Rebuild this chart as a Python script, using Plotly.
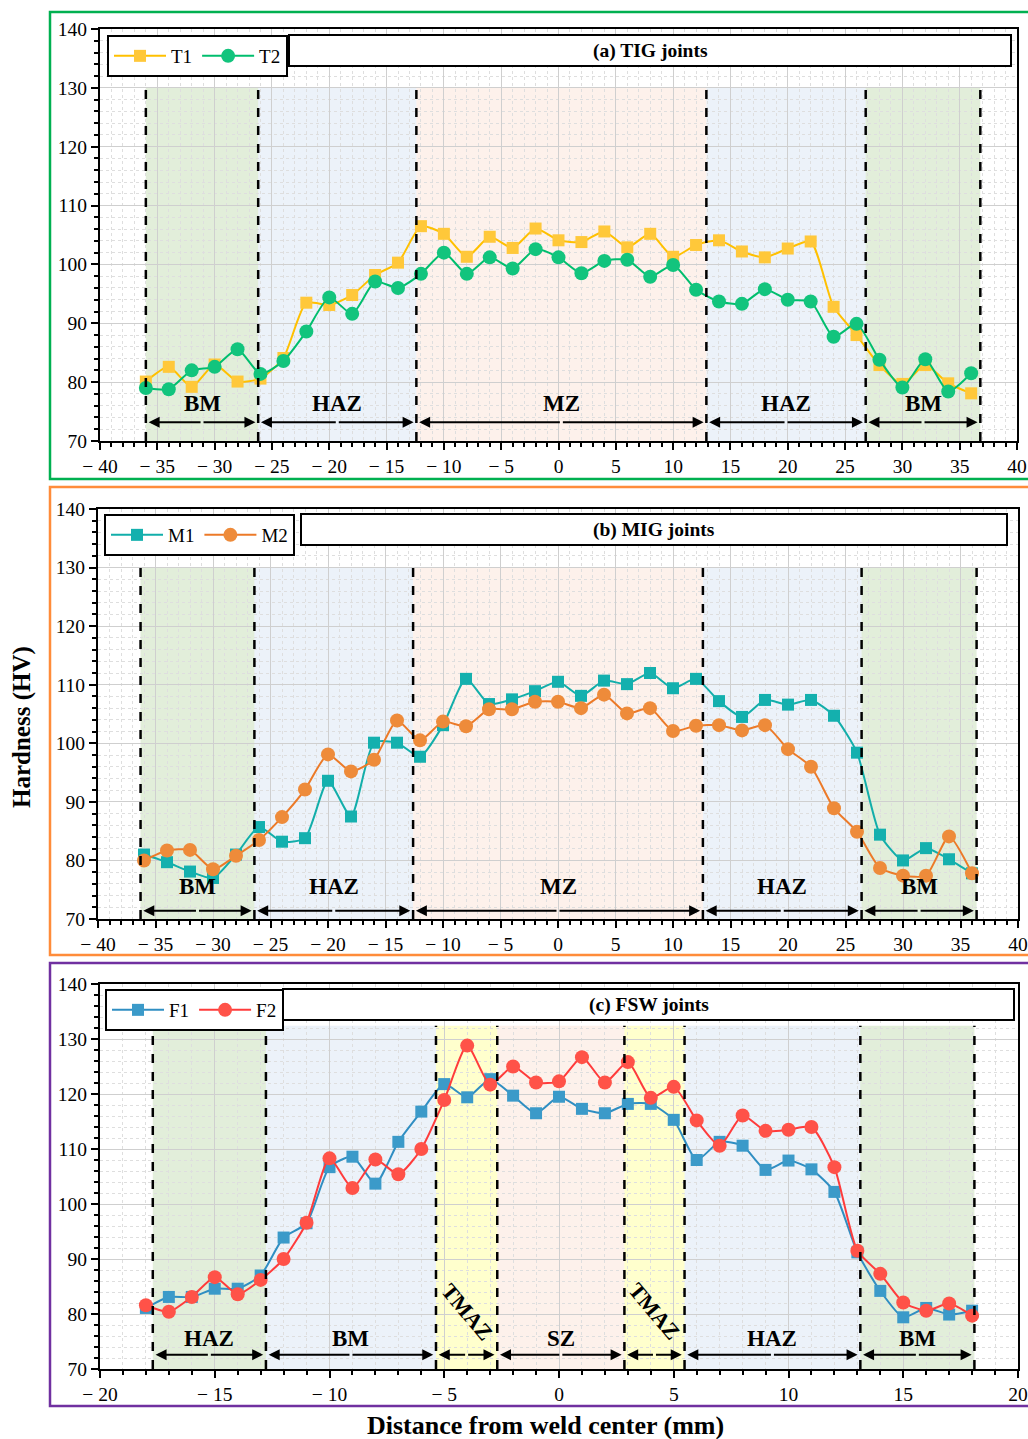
import plotly.graph_objects as go

# ---------------- data ----------------
x_arc = list(range(-36, 37, 2))          # TIG / MIG measuring positions (mm)
x_fsw = list(range(-18, 19, 1))          # FSW measuring positions (mm)

t1 = [80.1, 82.6, 79.2, 83.0, 80.1, 80.6, 84.1, 93.5, 93.1, 94.8, 98.2, 100.3, 106.5,
      105.2, 101.3, 104.7, 102.8, 106.1, 104.1, 103.8, 105.6, 102.9, 105.2, 101.3, 103.3,
      104.1, 102.2, 101.2, 102.7, 103.9, 92.8, 88.0, 82.9, 79.7, 82.9, 79.8, 78.1]
t2 = [79.0, 78.8, 82.0, 82.6, 85.6, 81.4, 83.6, 88.6, 94.4, 91.6, 97.1, 96.0, 98.4,
      102.0, 98.4, 101.2, 99.3, 102.6, 101.2, 98.5, 100.6, 100.8, 97.9, 99.9, 95.7,
      93.7, 93.3, 95.8, 94.0, 93.7, 87.7, 89.9, 83.8, 79.1, 83.9, 78.4, 81.5]
m1 = [81.0, 79.7, 78.1, 77.0, 81.0, 85.7, 83.2, 83.8, 93.6, 87.5, 100.1, 100.1, 97.7,
      103.1, 111.0, 106.7, 107.5, 108.9, 110.5, 108.1, 110.7, 110.1, 112.0, 109.4, 111.0,
      107.2, 104.5, 107.4, 106.6, 107.4, 104.7, 98.4, 84.4, 80.0, 82.1, 80.2, 77.8]
m2 = [80.0, 81.7, 81.8, 78.5, 80.8, 83.5, 87.4, 92.1, 98.1, 95.2, 97.2, 103.9, 100.5,
      103.7, 102.9, 105.8, 105.8, 107.1, 107.1, 106.0, 108.3, 105.1, 106.0, 102.1, 103.0,
      103.1, 102.2, 103.1, 99.0, 96.0, 88.9, 84.9, 78.7, 77.4, 77.4, 84.1, 77.8]
f1 = [81.1, 83.1, 83.1, 84.6, 84.6, 87.0, 93.9, 96.5, 106.7, 108.6, 103.7, 111.3, 116.8,
      121.8, 119.4, 122.7, 119.7, 116.5, 119.5, 117.3, 116.5, 118.2, 118.2, 115.3, 108.0,
      111.3, 110.6, 106.2, 107.9, 106.3, 102.2, 91.2, 84.2, 79.4, 81.1, 79.9, 80.6]
f2 = [81.6, 80.4, 83.1, 86.7, 83.6, 86.2, 90.0, 96.6, 108.3, 102.9, 108.1, 105.4, 110.0,
      118.9, 128.8, 121.7, 125.0, 122.1, 122.3, 126.7, 122.1, 125.8, 119.3, 121.3, 115.2,
      110.6, 116.1, 113.3, 113.5, 114.0, 106.7, 91.5, 87.3, 82.1, 80.6, 81.9, 79.7]

# zone boundaries (mm) and labels
bounds_tig = [-36.0, -26.2, -12.4, 12.9, 26.8, 36.8]
zones_tig = ["BM", "HAZ", "MZ", "HAZ", "BM"]
bounds_mig = [-36.3, -26.4, -12.6, 12.6, 26.4, 36.4]
zones_mig = ["BM", "HAZ", "MZ", "HAZ", "BM"]
bounds_fsw = [-17.7, -12.77, -5.36, -2.69, 2.85, 5.47, 13.13, 18.1]
zones_fsw = ["HAZ", "BM", "TMAZ", "SZ", "TMAZ", "HAZ", "BM"]
fill_tig = ["green", "blue", "pink", "blue", "green"]
fill_mig = ["green", "blue", "pink", "blue", "green"]
fill_fsw = ["green", "blue", "yellow", "pink", "yellow", "blue", "green"]

# ---------------- styling ----------------
W, H = 1028, 1439
FONT = "Liberation Serif"
ZONE_COLORS = {
    "green": "rgba(120,175,80,0.21)",
    "blue": "rgba(120,160,215,0.14)",
    "pink": "rgba(245,170,130,0.16)",
    "yellow": "rgba(255,255,60,0.26)",
}


def px(p):
    return p / W


def py(p):
    return 1 - p / H


def minus_ticks(vals):
    return [("\u2212 " + str(abs(v))) if v < 0 else str(v) for v in vals]


fig = go.Figure()

panels = [
    dict(ax="", xr=[-40, 40], xd=[px(100), px(1017)], yd=[py(441), py(29)],
         bounds=bounds_tig, zones=zones_tig, fills=fill_tig, top=130, ly=76.4, ay=73.2,
         dtick=5, minor=1, frame="#00B050", fy=(12, 479),
         title_box=(289, 35, 1011, 66), title="(a) TIG joints"),
    dict(ax="2", xr=[-40, 40], xd=[px(98), px(1018)], yd=[py(919), py(509)],
         bounds=bounds_mig, zones=zones_mig, fills=fill_mig, top=130, ly=75.6, ay=71.4,
         dtick=5, minor=1, frame="#FF8C3A", fy=(487, 955),
         title_box=(301, 514, 1007, 545), title="(b) MIG joints"),
    dict(ax="3", xr=[-20, 20], xd=[px(100), px(1018)], yd=[py(1369), py(984)],
         bounds=bounds_fsw, zones=zones_fsw, fills=fill_fsw, top=132.4, ly=75.5, ay=72.6,
         dtick=5, minor=1, frame="#7030A0", fy=(963, 1406),
         title_box=(283, 989, 1014, 1020), title="(c) FSW joints"),
]

series = [
    (x_arc, t1, "T1", "#FFC000", "#FFC83A", "square", 12, "", "legend"),
    (x_arc, t2, "T2", "#00BE6E", "#12C47D", "circle", 14, "", "legend"),
    (x_arc, m1, "M1", "#12AEAA", "#14B0AE", "square", 12, "2", "legend2"),
    (x_arc, m2, "M2", "#EC7A28", "#EE8B3A", "circle", 14, "2", "legend2"),
    (x_fsw, f1, "F1", "#2F8EC2", "#3B9AC9", "square", 12, "3", "legend3"),
    (x_fsw, f2, "F2", "#FF3B3B", "#FF5248", "circle", 14, "3", "legend3"),
]

for xs, ys, name, lc, mc, sym, ms, ax, lg in series:
    fig.add_trace(go.Scatter(
        x=xs, y=ys, name=name, mode="lines+markers",
        line=dict(color=lc, width=2, shape="spline", smoothing=0.6),
        marker=dict(symbol=sym, size=ms, color=mc, line=dict(width=0)),
        xaxis="x" + ax, yaxis="y" + ax, legend=lg,
    ))

shapes = []
annotations = []

for p in panels:
    ax = p["ax"]
    xref, yref = "x" + ax, "y" + ax
    b = p["bounds"]
    # shaded zones
    for i, fkey in enumerate(p["fills"]):
        shapes.append(dict(type="rect", xref=xref, yref=yref, x0=b[i], x1=b[i + 1],
                           y0=70, y1=p["top"], fillcolor=ZONE_COLORS[fkey],
                           line=dict(width=0), layer="below"))
    # dashed boundaries
    for xb in b:
        shapes.append(dict(type="line", xref=xref, yref=yref, x0=xb, x1=xb,
                           y0=70, y1=p["top"], line=dict(color="black", width=2.5, dash="dash"),
                           layer="above"))
    # arrows and zone labels
    for i, z in enumerate(p["zones"]):
        a0, a1 = b[i], b[i + 1]
        mid = (a0 + a1) / 2
        gap = (p["xr"][1] - p["xr"][0]) * 0.003
        for end in (a0 + gap, a1 - gap):
            annotations.append(dict(x=end, y=p["ay"], ax=mid, ay=p["ay"], xref=xref, yref=yref,
                                    axref=xref, ayref=yref, text="", showarrow=True,
                                    arrowhead=2, arrowsize=1.1, arrowwidth=2, arrowcolor="black"))
        if z == "TMAZ":
            annotations.append(dict(x=mid, y=80.4, xref=xref, yref=yref, text="<b>TMAZ</b>",
                                    showarrow=False, textangle=50,
                                    xanchor="center", yanchor="middle",
                                    font=dict(family=FONT, size=22, color="black")))
        else:
            annotations.append(dict(x=mid, y=p["ly"], xref=xref, yref=yref, text="<b>%s</b>" % z,
                                    showarrow=False, xanchor="center", yanchor="middle",
                                    font=dict(family=FONT, size=23, color="black")))
    # panel title box
    tx0, ty0, tx1, ty1 = p["title_box"]
    shapes.append(dict(type="rect", xref="paper", yref="paper", x0=px(tx0), x1=px(tx1),
                       y0=py(ty1), y1=py(ty0), fillcolor="white",
                       line=dict(color="black", width=2), layer="above"))
    annotations.append(dict(x=px((tx0 + tx1) / 2), y=py((ty0 + ty1) / 2), xref="paper", yref="paper",
                            text="<b>%s</b>" % p["title"], showarrow=False,
                            xanchor="center", yanchor="middle",
                            font=dict(family=FONT, size=19.5, color="black")))
    # coloured outer frame
    fy0, fy1 = p["fy"]
    shapes.append(dict(type="rect", xref="paper", yref="paper", x0=px(50), x1=1.01,
                       y0=py(fy1), y1=py(fy0), line=dict(color=p["frame"], width=2.5),
                       fillcolor="rgba(0,0,0,0)", layer="above"))

    xticks = list(range(p["xr"][0], p["xr"][1] + 1, p["dtick"]))
    axis_common = dict(showline=True, linecolor="black", linewidth=2, mirror=True,
                       ticks="outside", ticklen=7, tickwidth=2, tickcolor="black",
                       showgrid=True, gridcolor="#cfcfcf", gridwidth=1, zeroline=False,
                       automargin=False,
                       tickfont=dict(family=FONT, size=19.5, color="black"))
    fig.layout["xaxis" + ax] = dict(
        domain=p["xd"], range=p["xr"], anchor="y" + ax,
        tickmode="array", tickvals=xticks, ticktext=minus_ticks(xticks),
        minor=dict(dtick=p["minor"], ticks="outside", ticklen=4, tickwidth=1.5,
                   tickcolor="black", showgrid=True, gridcolor="#dedede", griddash="dot"),
        **axis_common)
    fig.layout["yaxis" + ax] = dict(
        domain=p["yd"], range=[70, 140], anchor="x" + ax,
        tickmode="linear", tick0=70, dtick=10,
        minor=dict(dtick=2, ticks="outside", ticklen=4, tickwidth=1.5,
                   tickcolor="black", showgrid=True, gridcolor="#dedede", griddash="dot"),
        **axis_common)

# axis titles
annotations.append(dict(x=px(22), y=py(727), xref="paper", yref="paper",
                        text="<b>Hardness (HV)</b>", textangle=-90, showarrow=False,
                        xanchor="center", yanchor="middle",
                        font=dict(family=FONT, size=25, color="black")))
annotations.append(dict(x=px(545), y=py(1425), xref="paper", yref="paper",
                        text="<b>Distance from weld center (mm)</b>", showarrow=False,
                        xanchor="center", yanchor="middle",
                        font=dict(family=FONT, size=26, color="black")))

legend_style = dict(orientation="h", xanchor="left", yanchor="top", bgcolor="white",
                    bordercolor="black", borderwidth=2, itemwidth=52,
                    font=dict(family=FONT, size=19, color="black"),
                    tracegroupgap=0, itemclick=False)

fig.update_layout(
    width=W, height=H,
    margin=dict(l=0, r=0, t=0, b=0, autoexpand=False),
    paper_bgcolor="white", plot_bgcolor="white",
    showlegend=True,
    legend=dict(x=px(107), y=py(35), **legend_style),
    legend2=dict(x=px(104), y=py(514), **legend_style),
    legend3=dict(x=px(105), y=py(989), **legend_style),
    shapes=shapes,
    annotations=annotations,
)

fig.write_html("out.html")
